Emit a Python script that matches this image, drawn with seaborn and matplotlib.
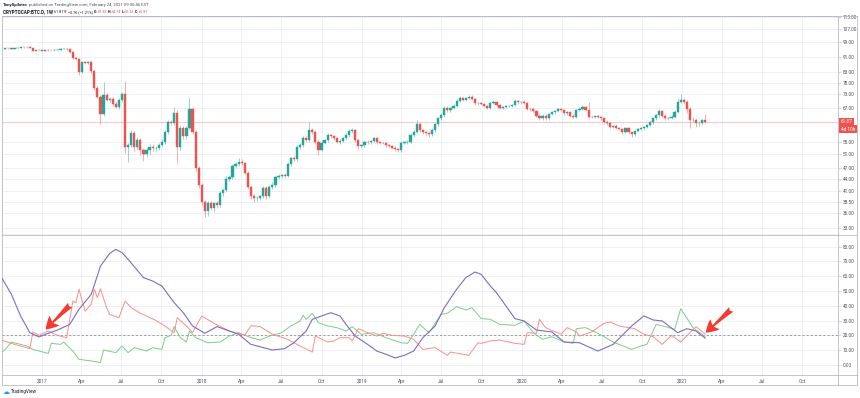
import numpy as np
import pandas as pd
import matplotlib
matplotlib.use("Agg")
import matplotlib.pyplot as plt
import matplotlib.dates as mdates
from matplotlib.ticker import NullLocator, FixedLocator
from matplotlib.lines import Line2D
import seaborn as sns

# ---------------- data ----------------
first_week = "2016-10-10"
first_open = 95.3
closes = [
    95.5, 95.6, 95.3, 95.8, 96.0, 96.2, 96.1, 96.3, 96.0, 94.2,
    94.5, 94.4, 94.3, 94.6, 94.5, 94.4, 94.7, 94.8, 95.2, 95.4,
    95.0, 93.4, 90.1, 89.6, 83.2, 88.0, 87.6, 87.9, 83.5, 75.4,
    71.8, 64.8, 72.5, 70.4, 71.0, 68.9, 67.6, 70.4, 72.8, 53.4,
    53.9, 57.8, 53.4, 55.5, 52.3, 51.0, 52.3, 53.4, 52.9, 53.0,
    53.9, 55.0, 58.3, 61.7, 61.4, 65.0, 53.4, 59.5, 56.8, 59.5,
    66.6, 58.3, 47.1, 42.6, 38.6, 36.4, 38.2, 37.2, 38.2, 37.9,
    40.5, 41.3, 44.2, 44.7, 47.6, 48.2, 48.9, 48.4, 45.8, 42.1,
    39.9, 39.3, 39.4, 39.9, 41.8, 39.9, 42.1, 42.6, 44.5, 44.9,
    45.2, 44.9, 48.2, 49.9, 49.6, 53.4, 53.9, 56.1, 55.5, 59.1,
    58.3, 55.0, 52.5, 54.6, 55.5, 57.2, 56.8, 56.1, 55.0, 55.3,
    56.1, 57.2, 58.6, 58.9, 55.5, 53.6, 53.9, 55.0, 54.8, 55.2,
    56.1, 54.8, 54.6, 54.5, 53.9, 53.6, 53.1, 52.7, 52.3, 54.6,
    54.8, 55.0, 57.2, 58.3, 60.9, 58.9, 58.3, 57.8, 57.4, 58.9,
    60.9, 63.2, 64.3, 67.2, 66.3, 67.2, 68.0, 70.0, 71.1, 70.4,
    71.1, 71.7, 70.8, 69.0, 69.0, 68.6, 68.0, 67.2, 69.0, 69.7,
    68.3, 67.2, 67.6, 68.0, 68.0, 68.3, 70.0, 69.4, 69.7, 69.0,
    66.7, 66.6, 66.0, 64.2, 63.2, 64.2, 63.2, 64.7, 65.4, 65.9,
    66.7, 66.3, 65.0, 65.4, 64.2, 63.8, 66.3, 66.9, 67.6, 66.3,
    63.8, 63.7, 63.9, 63.8, 63.2, 61.9, 61.4, 60.1, 60.5, 59.8,
    59.3, 58.3, 59.5, 58.1, 57.4, 58.6, 59.3, 59.5, 60.1, 60.7,
    61.7, 63.2, 64.3, 65.9, 64.2, 63.2, 63.4, 63.8, 65.6, 69.7,
    70.4, 69.7, 66.7, 62.5, 62.6, 61.4, 61.4, 62.38, 61.87,
]
wick_hi = [
    0.3, 0.2, 0.3, 0.2, 0.3, 0.2, 0.3, 0.2, 0.3, 0.5,
    0.3, 0.2, 0.3, 0.2, 0.3, 0.2, 0.3, 0.2, 0.3, 0.2,
    0.3, 0.4, 0.5, 0.6, 0.8, 0.4, 0.7, 0.5, 0.6, 0.8,
    1.0, 0.9, 6.0, 0.8, 0.7, 0.6, 0.9, 0.8, 1.0, 6.0,
    0.8, 1.0, 0.9, 1.2, 0.7, 0.6, 0.8, 1.0, 0.7, 0.6,
    0.8, 0.9, 0.7, 1.0, 0.8, 2.6, 1.5, 1.2, 0.8, 1.0,
    4.6, 1.0, 0.8, 0.6, 0.5, 0.4, 0.6, 0.5, 0.4, 0.5,
    0.6, 0.5, 0.6, 0.5, 0.6, 0.5, 0.9, 0.6, 0.4, 0.5,
    0.4, 0.5, 0.4, 0.3, 0.5, 0.4, 0.5, 0.6, 0.4, 0.5,
    0.3, 0.6, 0.5, 0.4, 0.7, 0.5, 0.6, 0.7, 0.8, 2.8,
    0.7, 0.6, 0.5, 0.6, 0.5, 0.6, 0.5, 0.4, 0.5, 0.6,
    0.5, 0.6, 0.7, 0.9, 0.5, 0.4, 0.5, 0.4, 0.5, 0.4,
    0.5, 0.4, 0.3, 0.4, 0.3, 0.4, 0.3, 0.4, 0.3, 0.5,
    0.4, 0.5, 0.6, 0.5, 1.6, 0.6, 0.5, 0.4, 0.5, 0.6,
    0.7, 0.6, 0.8, 0.7, 0.6, 0.5, 0.7, 0.6, 0.8, 0.6,
    0.5, 0.7, 0.6, 0.5, 0.4, 0.5, 0.4, 0.5, 0.6, 0.5,
    0.4, 0.5, 0.4, 0.5, 0.4, 0.5, 0.6, 0.5, 0.4, 0.5,
    0.6, 0.5, 0.4, 0.5, 0.6, 0.5, 0.4, 0.5, 0.6, 0.5,
    0.6, 0.5, 0.4, 0.5, 0.4, 0.5, 0.6, 0.5, 0.6, 0.5,
    3.4, 0.4, 0.3, 0.4, 0.3, 0.4, 0.5, 0.4, 0.3, 0.4,
    0.3, 0.4, 0.5, 0.4, 0.3, 0.4, 0.5, 0.4, 0.3, 0.4,
    0.5, 0.6, 0.5, 0.7, 0.6, 0.5, 0.4, 0.5, 0.8, 1.2,
    2.4, 1.0, 0.8, 0.7, 1.2, 0.8, 0.9, 0.6, 2.36,
]
wick_lo = [
    0.2, 0.3, 0.2, 0.3, 0.2, 0.3, 0.2, 0.3, 0.2, 0.3,
    0.4, 0.2, 0.3, 0.2, 0.3, 0.2, 0.3, 0.2, 0.3, 0.2,
    0.3, 0.4, 0.6, 0.5, 1.6, 0.5, 0.6, 0.5, 0.8, 0.9,
    0.7, 3.8, 0.8, 0.6, 0.7, 0.8, 0.6, 0.9, 0.8, 2.1,
    4.5, 0.7, 1.2, 0.9, 1.5, 1.8, 0.8, 1.6, 0.7, 0.8,
    0.6, 0.5, 0.7, 0.8, 0.6, 0.8, 5.0, 0.9, 1.0, 0.8,
    0.7, 0.8, 1.2, 0.9, 0.8, 1.2, 0.9, 0.6, 1.0, 0.7,
    0.5, 0.6, 0.4, 0.6, 0.5, 0.4, 0.5, 0.6, 0.5, 0.6,
    0.8, 0.9, 0.6, 0.5, 0.6, 0.7, 0.5, 0.6, 0.5, 0.4,
    0.5, 0.6, 0.4, 0.5, 0.4, 0.5, 0.6, 0.5, 0.6, 0.5,
    0.6, 0.7, 1.8, 0.6, 0.5, 0.6, 0.5, 0.6, 0.5, 0.6,
    0.5, 0.4, 0.5, 0.6, 0.7, 0.8, 0.6, 0.5, 0.4, 0.5,
    0.4, 0.6, 0.5, 0.4, 0.5, 0.4, 0.5, 0.6, 0.5, 0.6,
    0.5, 0.4, 0.5, 0.6, 0.5, 0.8, 0.6, 0.5, 0.7, 0.5,
    0.6, 0.5, 0.6, 0.5, 0.7, 0.6, 0.5, 0.6, 0.5, 0.6,
    0.5, 0.4, 0.5, 0.6, 0.5, 0.4, 0.5, 0.6, 0.5, 0.4,
    0.5, 0.6, 0.5, 0.4, 0.5, 0.4, 0.5, 0.6, 0.5, 0.4,
    0.5, 0.6, 0.5, 0.7, 0.6, 0.5, 0.6, 0.5, 0.4, 0.5,
    0.4, 0.5, 0.6, 0.5, 0.6, 0.5, 0.4, 0.5, 0.4, 0.5,
    0.6, 0.5, 0.4, 0.5, 0.6, 0.5, 0.6, 0.5, 0.4, 0.5,
    0.5, 0.6, 0.5, 0.6, 0.7, 0.5, 0.4, 0.5, 0.4, 0.5,
    0.4, 0.5, 0.6, 0.5, 0.6, 0.5, 0.6, 0.5, 0.4, 0.6,
    0.7, 0.8, 1.5, 3.0, 0.8, 1.4, 0.9, 0.7, 0.54,
]

# DMI indicator (week index from first_week, value)
adx_weeks = [-1, 2, 5, 8, 11, 14, 17, 21, 24, 28, 31, 34, 36, 38, 40, 45, 48, 51, 55, 58,
             61, 65, 69, 73, 76, 80, 83, 87, 91, 94, 98, 100, 106, 109, 111, 114, 118, 121, 124, 127,
             130, 133, 136, 140, 143, 147, 150, 153, 155, 158, 160, 166, 169, 173, 178, 182, 187, 193, 198, 204,
             208, 211, 214, 219, 222, 225, 228]
adx_vals = [58.3, 47.7, 33.0, 21.8, 18.9, 21.4, 23.6, 27.4, 37.6, 47.7, 66.8, 75.4, 78.1, 75.9, 71.4, 59.0, 56.7, 53.3, 42.1, 35.3,
            26.3, 21.4, 25.9, 22.9, 20.7, 13.9, 12.3, 10.1, 11.0, 15.0, 22.9, 30.8, 35.3, 33.1, 27.4, 19.5, 13.9, 9.4, 7.2, 4.7,
            6.5, 9.4, 18.4, 26.3, 38.7, 51.1, 59.0, 62.8, 61.2, 53.3, 48.8, 31.3, 29.7, 23.6, 22.3, 15.5, 15.0, 9.4, 13.9, 26.3,
            33.1, 30.4, 29.7, 21.8, 24.5, 22.9, 18.0]
mdi_weeks = [-1, 3, 8, 9, 11, 14, 17, 20, 22, 23, 24, 26, 28, 29, 30, 31, 33, 34, 37, 39,
             41, 44, 46, 49, 52, 55, 56, 59, 61, 64, 68, 73, 78, 80, 83, 87, 92, 96, 100, 101,
             105, 107, 109, 112, 113, 115, 118, 121, 123, 126, 130, 133, 136, 140, 144, 145, 151, 154, 155, 158,
             161, 166, 169, 170, 173, 174, 176, 181, 183, 186, 187, 191, 195, 197, 200, 205, 208, 211, 214, 217,
             220, 223, 225, 228]
mdi_vals = [16.6, 13.9, 11.0, 22.3, 20.0, 22.9, 20.0, 18.4, 43.2, 42.0, 51.1, 36.4, 41.0, 51.1, 45.5, 51.5, 38.7, 34.2, 31.9, 43.2,
            38.7, 34.9, 33.1, 30.1, 26.3, 21.8, 31.9, 26.3, 21.8, 33.1, 28.1, 22.9, 20.0, 26.5, 25.9, 20.7, 17.3, 12.8, 8.7, 19.5,
            15.5, 16.2, 18.4, 18.4, 16.2, 24.5, 21.8, 19.5, 21.4, 20.0, 19.5, 17.3, 10.5, 11.7, 6.5, 8.7, 6.5, 15.0, 14.6, 16.2,
            16.8, 14.6, 13.9, 21.8, 21.4, 30.8, 25.2, 20.7, 25.2, 22.3, 19.5, 22.3, 28.1, 29.0, 26.3, 24.5, 20.7, 19.1, 13.9, 20.0,
            15.5, 21.8, 25.9, 20.7]
pdi_weeks = [-1, 0, 2, 7, 9, 14, 15, 18, 19, 22, 24, 28, 31, 32, 36, 38, 40, 42, 46, 48,
             51, 52, 54, 55, 57, 59, 60, 62, 66, 70, 73, 76, 80, 83, 86, 90, 93, 96, 97, 98,
             100, 102, 105, 108, 111, 113, 116, 120, 124, 129, 131, 133, 135, 138, 142, 144, 147, 150, 152, 155,
             158, 161, 166, 169, 172, 175, 178, 182, 185, 186, 189, 193, 198, 204, 207, 209, 212, 215, 218, 220,
             224, 228]
pdi_vals = [8.7, 10.5, 15.5, 12.8, 10.5, 7.8, 14.6, 13.9, 15.5, 9.4, 3.8, 2.7, 1.5, 10.1, 8.3, 12.8, 8.3, 11.7, 9.4, 11.7,
            10.5, 18.4, 20.0, 25.9, 18.4, 15.5, 22.9, 18.4, 15.0, 15.5, 19.5, 21.8, 18.5, 16.8, 19.5, 21.8, 26.3, 29.7, 33.5, 30.8,
            34.9, 28.6, 26.3, 25.2, 22.9, 25.9, 20.7, 21.8, 18.4, 15.0, 14.6, 20.7, 27.4, 21.8, 34.2, 34.9, 39.4, 37.1, 38.7, 31.3,
            30.8, 27.4, 26.8, 29.7, 21.8, 17.3, 19.1, 15.5, 14.6, 24.5, 25.2, 21.4, 15.5, 10.5, 12.8, 13.9, 27.4, 25.9, 23.9, 38.0,
            25.2, 19.1]

price_ticks = [115, 107, 99, 91, 83, 78, 73, 67, 55, 51, 47, 44, 41, 38.5, 36, 33]
ind_ticks = [80, 70, 60, 50, 40, 30, 20, 10, 0]
time_ticks = ["2017-01-01", "2017-04-01", "2017-07-01", "2017-10-01", "2018-01-01", "2018-04-01",
              "2018-07-01", "2018-10-01", "2019-01-01", "2019-04-01", "2019-07-01", "2019-10-01",
              "2020-01-01", "2020-04-01", "2020-07-01", "2020-10-01", "2021-01-01", "2021-04-01",
              "2021-07-01", "2021-10-01"]
time_labels = ["2017", "Apr", "Jul", "Oct", "2018", "Apr", "Jul", "Oct", "2019", "Apr", "Jul", "Oct",
               "2020", "Apr", "Jul", "Oct", "2021", "Apr", "Jul", "Oct"]
last_close = 61.87
countdown = "4d 10h"
header_1 = [("TonySpilotro", "#131722", "bold", 3.1),
            (" published on TradingView.com, February 24, 2021 09:30:46 EST", "#50535e", "normal", 3.1)]
header_2 = [("CRYPTOCAP:BTC.D, 1W", "#131722", "bold", 3.3), (" 61.87", "#131722", "normal", 2.7),
            (" ▼", "#ef5350", "normal", 2.7), (" \u22120.76 (\u22121.21%)", "#131722", "normal", 2.7),
            (" O:", "#131722", "bold", 2.7), ("62.38", "#ef5350", "normal", 2.7),
            (" H:", "#131722", "bold", 2.7), ("64.74", "#ef5350", "normal", 2.7),
            (" L:", "#131722", "bold", 2.7), ("61.33", "#ef5350", "normal", 2.7),
            (" C:", "#131722", "bold", 2.7), ("61.87", "#ef5350", "normal", 2.7)]

# ---------------- styling ----------------
sns.set_style("white")
plt.rcParams["font.family"] = ["Roboto", "DejaVu Sans"]

UP, DN = "#26a69a", "#ef5350"
GRID = "#eaeef4"
BORDER = "#b8bbc4"
TXT = "#50535e"

W, H = 860, 398
fig = plt.figure(figsize=(W / 100, H / 100), dpi=100)
fig.patch.set_facecolor("white")


def fx(px):
    return px / W


def fy(py):
    return 1 - py / H


ax = fig.add_axes([fx(2), fy(235), fx(838) - fx(2), fy(16) - fy(235)])
axi = fig.add_axes([fx(2), fy(375), fx(838) - fx(2), fy(235) - fy(375)])

start = pd.Timestamp(first_week)
dates = pd.date_range(start, periods=len(closes), freq="7D")
xd = mdates.date2num(dates.to_pydatetime())
c = np.array(closes)
o = np.array([first_open] + closes[:-1])
hi = np.maximum(o, c) + np.array(wick_hi)
lo = np.minimum(o, c) - np.array(wick_lo)
cols = np.where(c >= o, UP, DN)

# candles
ax.vlines(xd, lo, hi, colors=cols, linewidth=0.6, alpha=0.55, zorder=2)
ax.bar(xd, np.abs(c - o), bottom=np.minimum(o, c), width=5.0, color=cols,
       edgecolor=cols, linewidth=0.3, zorder=3)
ax.axhline(last_close, color=DN, lw=0.5, alpha=0.45, zorder=1)

ax.set_yscale("log")
ax.set_ylim(31.66, 115.7)
ax.yaxis.set_major_locator(FixedLocator(price_ticks))
ax.yaxis.set_minor_locator(NullLocator())
ax.set_yticklabels([f"{t:.2f}" for t in price_ticks])

x_left = mdates.date2num(pd.Timestamp("2017-01-01")) - 90.5
x_right = mdates.date2num(pd.Timestamp("2017-01-01")) + 1815.6
tick_num = mdates.date2num(pd.to_datetime(time_ticks).to_pydatetime())


# indicator
def wk(weeks):
    return mdates.date2num(start.to_pydatetime()) + 7 * np.array(weeks, dtype=float)


sns.lineplot(x=wk(pdi_weeks), y=pdi_vals, ax=axi, color="#7fcc85", linewidth=0.7, zorder=3)
sns.lineplot(x=wk(mdi_weeks), y=mdi_vals, ax=axi, color="#ff8c88", linewidth=0.7, zorder=3)
sns.lineplot(x=wk(adx_weeks), y=adx_vals, ax=axi, color="#7e6bc4", linewidth=0.8, zorder=4)
axi.axhline(20, color="#8a8d96", lw=0.6, dashes=(2.5, 2.5), zorder=2)
axi.set_ylim(-6.8, 87.8)
axi.set_yticks(ind_ticks)
axi.set_yticklabels([f"{t:.2f}" for t in ind_ticks])

for a in (ax, axi):
    a.set_xlim(x_left, x_right)
    a.set_xticks(tick_num)
    a.grid(True, color=GRID, lw=0.6)
    a.set_axisbelow(True)
    a.yaxis.tick_right()
    a.tick_params(axis="y", which="both", direction="out", length=2, width=0.4, color=BORDER,
                  labelsize=3.4, labelcolor=TXT, pad=1.5, right=True, left=False)
    for s in a.spines.values():
        s.set_color(BORDER)
        s.set_linewidth(0.6)
    a.set_xlabel("")
    a.set_ylabel("")

ax.tick_params(axis="x", bottom=False, labelbottom=False)
axi.set_xticklabels(time_labels)
axi.tick_params(axis="x", direction="out", length=1.5, width=0.4, color=BORDER,
                labelsize=3.4, labelcolor=TXT, pad=1.5)
ax.spines["bottom"].set_color("#8f929b")
ax.spines["bottom"].set_linewidth(0.9)

# last price labels on the price scale
ax.annotate(f"{last_close:.2f}", xy=(1.0, last_close), xycoords=("axes fraction", "data"),
            xytext=(2.2, 0), textcoords="offset points", ha="left", va="center",
            fontsize=3.4, color="white", annotation_clip=False,
            bbox=dict(boxstyle="square,pad=0.35", fc=DN, ec="none"))
ax.annotate(countdown, xy=(1.0, last_close), xycoords=("axes fraction", "data"),
            xytext=(2.2, -5.2), textcoords="offset points", ha="left", va="center",
            fontsize=3.4, color="white", annotation_clip=False,
            bbox=dict(boxstyle="square,pad=0.35", fc=DN, ec="none"))

# arrows
d0 = mdates.date2num(pd.Timestamp("2017-01-01"))
arrow_style = "fancy,head_length=0.9,head_width=1.0,tail_width=0.45"
axi.annotate("", xy=(d0 + 9, 24.0), xytext=(d0 + 65, 40.5),
             arrowprops=dict(arrowstyle=arrow_style, fc="#f23a2e", ec="none",
                             mutation_scale=10, shrinkA=0, shrinkB=0), zorder=6)
axi.annotate("", xy=(d0 + 1514, 21.8), xytext=(d0 + 1572, 37.5),
             arrowprops=dict(arrowstyle=arrow_style, fc="#f23a2e", ec="none",
                             mutation_scale=10, shrinkA=0, shrinkB=0), zorder=6)

# frame of the whole chart
for (x1, y1, x2, y2) in [(2, 16, 857, 16), (857, 16, 857, 385), (2, 385, 857, 385),
                          (2, 375, 2, 385), (838, 375, 838, 385), (838, 375, 857, 375),
                          (838, 235, 857, 235)]:
    fig.add_artist(Line2D([fx(x1), fx(x2)], [fy(y1), fy(y2)], color=BORDER, lw=0.6,
                          transform=fig.transFigure))


# header (chained coloured text)
def chain(parts, x_px, y_px):
    t = None
    for s, col, w, size in parts:
        if t is None:
            t = ax.annotate(s, xy=(x_px, H - y_px), xycoords="figure pixels", ha="left",
                            va="bottom", fontsize=size, color=col, fontweight=w,
                            annotation_clip=False)
        else:
            t = ax.annotate(s, xy=(1, 0), xycoords=t, ha="left", va="bottom",
                            fontsize=size, color=col, fontweight=w, annotation_clip=False)


chain(header_1, 3, 7)
chain(header_2, 3, 14)

# footer logo
fig.text(fx(3), fy(392), "\u2601", fontsize=5, color="#2196f3", va="center", ha="left",
         family="DejaVu Sans")
fig.text(fx(11), fy(392), "TradingView", fontsize=3.3, color="#131722", va="center", ha="left")

fig.savefig("out.png", dpi=100, facecolor="white")
